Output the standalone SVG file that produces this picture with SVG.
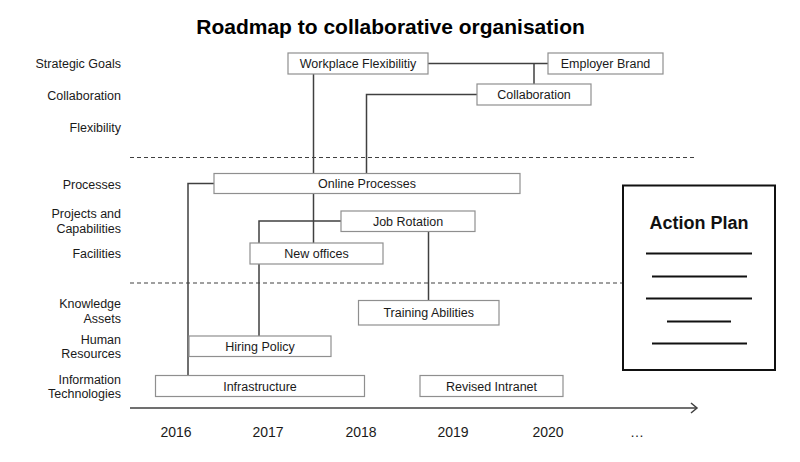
<svg xmlns="http://www.w3.org/2000/svg" width="800" height="462" viewBox="0 0 800 462">
<style>
text{font-family:"Liberation Sans",Arial,sans-serif;fill:#1a1a1a}
.lbl{font-size:12.5px;text-anchor:end}
.bt{font-size:12.5px;text-anchor:middle}
.yr{font-size:14px;text-anchor:middle}
.box{fill:#fff;stroke:#8f8f8f;stroke-width:1.2}
.con{fill:none;stroke:#404040;stroke-width:1.5}
.dash{fill:none;stroke:#404040;stroke-width:1.2;stroke-dasharray:4 3}
.ap{stroke:#111;stroke-width:2}
</style>
<defs>
<marker id="arr" markerWidth="10" markerHeight="12" refX="8" refY="6" orient="auto" markerUnits="userSpaceOnUse">
<path d="M2,1 L8,6 L2,11" fill="none" stroke="#404040" stroke-width="1.5"/>
</marker>
</defs>
<rect width="800" height="462" fill="#fff"/>
<text x="390.5" y="34" style="font-size:21px;font-weight:bold;text-anchor:middle;fill:#000">Roadmap to collaborative organisation</text>
<g id="row-labels">
<text class="lbl" x="121" y="67.5">Strategic Goals</text>
<text class="lbl" x="121" y="99.5">Collaboration</text>
<text class="lbl" x="121" y="131.5">Flexibility</text>
<text class="lbl" x="121" y="189">Processes</text>
<text class="lbl" x="121" y="217.5">Projects and</text>
<text class="lbl" x="121" y="233">Capabilities</text>
<text class="lbl" x="121" y="258">Facilities</text>
<text class="lbl" x="121" y="307.5">Knowledge</text>
<text class="lbl" x="121" y="322.5">Assets</text>
<text class="lbl" x="121" y="343.5">Human</text>
<text class="lbl" x="121" y="358">Resources</text>
<text class="lbl" x="121" y="383.5">Information</text>
<text class="lbl" x="121" y="398">Technologies</text>
</g>
<g id="separators">
<line class="dash" x1="130" y1="157.5" x2="697" y2="157.5"/>
<line class="dash" x1="130" y1="283" x2="623" y2="283"/>
</g>
<g id="connectors">
<path class="con" d="M428,63.5 H548"/>
<path class="con" d="M534,63.5 V84"/>
<path class="con" d="M477,94.5 H366.5 V173.5"/>
<path class="con" d="M313.5,74 V243"/>
<path class="con" d="M341,221 H259 V336"/>
<path class="con" d="M214,183.5 H188 V375.5"/>
<path class="con" d="M428.5,231.5 V300.5"/>
</g>
<g id="n-workplace"><rect class="box" x="288" y="53" width="140" height="21"/><text class="bt" x="358" y="68">Workplace Flexibilitiy</text></g>
<g id="n-employer"><rect class="box" x="548" y="53" width="115" height="21"/><text class="bt" x="605.5" y="68">Employer Brand</text></g>
<g id="n-collab"><rect class="box" x="477" y="84" width="114" height="21"/><text class="bt" x="534" y="99">Collaboration</text></g>
<g id="n-online"><rect class="box" x="214" y="173.5" width="306" height="20"/><text class="bt" x="367" y="188">Online Processes</text></g>
<g id="n-jobrot"><rect class="box" x="341" y="211" width="134" height="20.5"/><text class="bt" x="408" y="225.5">Job Rotation</text></g>
<g id="n-offices"><rect class="box" x="250" y="243" width="133" height="21"/><text class="bt" x="316.5" y="258">New offices</text></g>
<g id="n-training"><rect class="box" x="358.5" y="300.5" width="140.5" height="24.5"/><text class="bt" x="428.7" y="317">Training Abilities</text></g>
<g id="n-hiring"><rect class="box" x="189" y="336" width="142" height="20.5"/><text class="bt" x="260" y="350.5">Hiring Policy</text></g>
<g id="n-infra"><rect class="box" x="155.5" y="375.5" width="209" height="21"/><text class="bt" x="260" y="390.5">Infrastructure</text></g>
<g id="n-intranet"><rect class="box" x="420" y="375.5" width="143" height="21"/><text class="bt" x="491.5" y="390.5">Revised Intranet</text></g>
<g id="axis">
<line class="con" x1="130" y1="408" x2="697" y2="408" marker-end="url(#arr)"/>
<text class="yr" x="176" y="437">2016</text>
<text class="yr" x="268" y="437">2017</text>
<text class="yr" x="361" y="437">2018</text>
<text class="yr" x="453" y="437">2019</text>
<text class="yr" x="548" y="437">2020</text>
<text class="yr" x="637" y="437">…</text>
</g>
<g id="action-plan">
<rect x="623" y="185.5" width="152" height="184.5" fill="#fff" stroke="#111" stroke-width="2"/>
<text x="699" y="229" style="font-size:18px;font-weight:bold;text-anchor:middle;fill:#111">Action Plan</text>
<line class="ap" x1="646" y1="253.5" x2="752" y2="253.5"/>
<line class="ap" x1="652" y1="276.5" x2="747" y2="276.5"/>
<line class="ap" x1="646" y1="298.5" x2="752" y2="298.5"/>
<line class="ap" x1="667" y1="321.5" x2="731" y2="321.5"/>
<line class="ap" x1="652" y1="343.5" x2="747" y2="343.5"/>
</g>
</svg>
